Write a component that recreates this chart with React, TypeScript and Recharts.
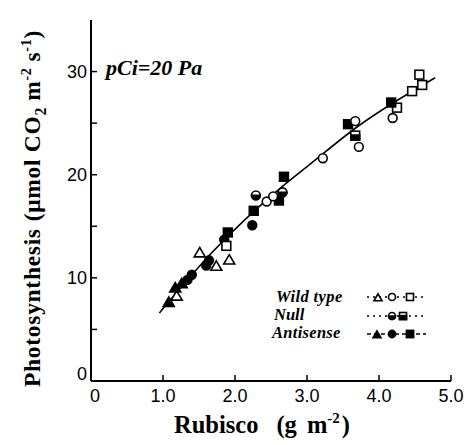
import { ComposedChart, Scatter, Line, XAxis, YAxis, Legend } from 'recharts';

// ─── Data ─────────────────────────────────────────────────────────────────────

const wtTriX = [1.19, 1.51, 1.74, 1.92];
const wtTriY = [8.2, 12.4, 11.1, 11.7];
const wtCircX = [2.44, 2.53, 3.22, 3.67, 3.72, 4.19];
const wtCircY = [17.4, 17.9, 21.6, 25.2, 22.7, 25.5];
const wtSqX = [1.88, 4.25, 4.46, 4.56, 4.6];
const wtSqY = [13.1, 26.5, 28.1, 29.7, 28.7];

const nullCircX = [2.29, 2.66];
const nullCircY = [18.0, 18.3];
const nullSqX = [3.67];
const nullSqY = [23.8];

const asTriX = [1.08, 1.17, 1.26];
const asTriY = [7.6, 9.0, 9.4];
const asCircX = [1.34, 1.4, 1.6, 1.64, 1.85, 2.24];
const asCircY = [9.8, 10.3, 11.2, 11.7, 13.7, 15.1];
const asSqX = [1.9, 2.26, 2.61, 2.68, 3.57, 4.17];
const asSqY = [14.4, 16.5, 17.5, 19.8, 24.9, 27.0];

// fitted curve
const fitX = [0.95, 1.7, 2.63, 3.04, 3.69, 4.78];
const fitY = [6.6, 12.6, 18.7, 21.0, 24.6, 29.4];

const xTicks = [0, 1, 2, 3, 4, 5];
const xTickLabels = ['0', '1.0', '2.0', '3.0', '4.0', '5.0'];
const yTicks = [0, 5, 10, 15, 20, 25, 30];
const yTickLabels = ['0', '', '10', '', '20', '', '30'];

const pts = (xs: number[], ys: number[]) => xs.map((x, i) => ({ x, y: ys[i] }));

// ─── Markers ──────────────────────────────────────────────────────────────────

const SW = 1.6;

function Tri({ cx, cy, s = 5.5, filled = false }: any) {
  const h = s * 1.7;
  return (
    <path
      d={`M${cx},${cy - h * 0.6} L${cx + s},${cy + h * 0.4} L${cx - s},${cy + h * 0.4} Z`}
      fill={filled ? '#000' : '#fff'}
      stroke="#000"
      strokeWidth={SW}
    />
  );
}

function Circ({ cx, cy, r = 4.4, filled = false }: any) {
  return <circle cx={cx} cy={cy} r={r} fill={filled ? '#000' : '#fff'} stroke="#000" strokeWidth={SW} />;
}

function Sq({ cx, cy, s = 4.4, filled = false }: any) {
  return (
    <rect x={cx - s} y={cy - s} width={s * 2} height={s * 2} fill={filled ? '#000' : '#fff'} stroke="#000" strokeWidth={SW} />
  );
}

function HalfCirc({ cx, cy, r = 4.4 }: any) {
  return (
    <g>
      <circle cx={cx} cy={cy} r={r} fill="#fff" stroke="#000" strokeWidth={SW} />
      <path d={`M${cx - r},${cy} A${r},${r} 0 0 0 ${cx + r},${cy} Z`} fill="#000" stroke="#000" strokeWidth={SW} />
    </g>
  );
}

function HalfSq({ cx, cy, s = 4.4 }: any) {
  return (
    <g>
      <rect x={cx - s} y={cy - s} width={s * 2} height={s * 2} fill="#fff" stroke="#000" strokeWidth={SW} />
      <rect x={cx - s} y={cy - s * 0.1} width={s * 2} height={s * 1.1} fill="#000" stroke="#000" strokeWidth={SW} />
    </g>
  );
}

// ─── Axis ticks (drawn inward) ────────────────────────────────────────────────

const TICK_FONT = "'Liberation Sans', Arial, sans-serif";

function BottomTick({ x, y, index }: any) {
  return (
    <g>
      <line x1={x} y1={y} x2={x} y2={y - 6} stroke="#000" strokeWidth={1.5} />
      <text x={index === 0 ? x + 4 : x} y={y + 21} textAnchor="middle" fontFamily={TICK_FONT} fontSize={18} fill="#000">
        {xTickLabels[index]}
      </text>
    </g>
  );
}

function LeftTick({ x, y, index }: any) {
  return (
    <g>
      <line x1={x} y1={y} x2={x + 6} y2={y} stroke="#000" strokeWidth={1.5} />
      <text x={x - 4} y={index === 0 ? y - 1 : y + 6} textAnchor="end" fontFamily={TICK_FONT} fontSize={18} fill="#000">
        {yTickLabels[index]}
      </text>
    </g>
  );
}

function TopTick({ x, y }: any) {
  return <line x1={x} y1={y} x2={x} y2={y + 6} stroke="#000" strokeWidth={1.5} />;
}

function RightTick({ x, y }: any) {
  return <line x1={x} y1={y} x2={x - 6} y2={y} stroke="#000" strokeWidth={1.5} />;
}

// ─── Titles ───────────────────────────────────────────────────────────────────

const SERIF = "'Liberation Serif', 'Times New Roman', serif";

function YTitle({ viewBox }: any) {
  const cx = 40;
  const cy = viewBox.y + viewBox.height / 2 + 8;
  return (
    <text
      x={cx}
      y={cy}
      transform={`rotate(-90 ${cx} ${cy})`}
      textAnchor="middle"
      fontFamily={SERIF}
      fontWeight="bold"
      fontSize={23.5}
      letterSpacing={0.7}
      fill="#000"
    >
      Photosynthesis
      <tspan dx={7}>(μmol CO</tspan>
      <tspan dy={6} fontSize={16}>2</tspan>
      <tspan dy={-6} dx={6}>m</tspan>
      <tspan dy={-9} fontSize={14}>-2</tspan>
      <tspan dy={9} dx={6}>s</tspan>
      <tspan dy={-9} fontSize={14}>-1</tspan>
      <tspan dy={9}>)</tspan>
    </text>
  );
}

function XTitle({ viewBox }: any) {
  const cx = viewBox.x + viewBox.width / 2 - 9;
  return (
    <text x={cx} y={433} textAnchor="middle" fontFamily={SERIF} fontWeight="bold" fontSize={24.5} fill="#000">
      Rubisco
      <tspan dx={18}>(g</tspan>
      <tspan dx={10}>m</tspan>
      <tspan dy={-10} fontSize={15}>-2</tspan>
      <tspan dy={10} dx={2}>)</tspan>
    </text>
  );
}

// ─── Legend ───────────────────────────────────────────────────────────────────

function LegendBox() {
  const rows = [297 - 285, 316 - 285, 334 - 285];
  const lbl = { fontFamily: SERIF, fontWeight: 'bold' as const, fontStyle: 'italic' as const, fontSize: 16.5, fill: '#000' };
  return (
    <svg width={170} height={60} style={{ overflow: 'visible' }}>
      <text x={6} y={rows[0] + 5} {...lbl} letterSpacing={0.4}>Wild type</text>
      <text x={4} y={rows[1] + 4} {...lbl}>Null</text>
      <text x={2} y={rows[2] + 4} {...lbl} letterSpacing={0.3}>Antisense</text>

      <line x1={97} x2={156} y1={rows[0]} y2={rows[0]} stroke="#000" strokeWidth={1.3} strokeDasharray="2 4" />
      <Tri cx={108} cy={rows[0] + 1} s={4} />
      <Circ cx={122} cy={rows[0]} r={3.5} />
      <Sq cx={140} cy={rows[0]} s={3.5} />

      <line x1={97} x2={156} y1={rows[1]} y2={rows[1]} stroke="#000" strokeWidth={1.3} strokeDasharray="2 4" />
      <HalfCirc cx={122} cy={rows[1]} r={3.5} />
      <HalfSq cx={133} cy={rows[1]} s={3.5} />

      <line x1={97} x2={156} y1={rows[2]} y2={rows[2]} stroke="#000" strokeWidth={1.3} strokeDasharray="4 3" />
      <Tri cx={107} cy={rows[2] + 1} s={4} filled />
      <Circ cx={122} cy={rows[2]} r={3.6} filled />
      <Sq cx={140} cy={rows[2]} s={3.6} filled />
    </svg>
  );
}

// ─── Chart ────────────────────────────────────────────────────────────────────

export default function App() {
  return (
    <div style={{ position: 'absolute', left: 0, top: 0, width: 472, height: 445, background: '#fff' }}>
      <ComposedChart width={472} height={445} margin={{ top: 20, right: 21, bottom: 14, left: 0 }}>
        <XAxis
          type="number"
          dataKey="x"
          domain={[0, 5]}
          ticks={xTicks}
          interval={0}
          height={50}
          tickSize={0}
          tickMargin={0}
          tickLine={false}
          axisLine={{ stroke: '#000', strokeWidth: 2 }}
          tick={<BottomTick />}
          label={<XTitle />}
          allowDataOverflow
        />
        <XAxis
          xAxisId="top"
          orientation="top"
          type="number"
          domain={[0, 5]}
          ticks={[1, 2, 3, 4]}
          interval={0}
          height={0}
          tickSize={0}
          tickMargin={0}
          tickLine={false}
          axisLine={{ stroke: '#000', strokeWidth: 1.6 }}
          tick={<TopTick />}
        />
        <YAxis
          type="number"
          dataKey="y"
          domain={[0, 35]}
          ticks={yTicks}
          interval={0}
          width={91}
          tickSize={0}
          tickMargin={0}
          tickLine={false}
          axisLine={{ stroke: '#000', strokeWidth: 2 }}
          tick={<LeftTick />}
          label={<YTitle />}
          allowDataOverflow
        />
        <YAxis
          yAxisId="right"
          orientation="right"
          type="number"
          domain={[0, 35]}
          ticks={[5, 10, 15, 20, 25, 30]}
          interval={0}
          width={0}
          tickSize={0}
          tickMargin={0}
          tickLine={false}
          axisLine={{ stroke: '#000', strokeWidth: 1.6 }}
          tick={<RightTick />}
        />
        <Legend
          layout="horizontal"
          verticalAlign="middle"
          align="center"
          wrapperStyle={{ position: 'absolute', left: 270, top: 285, width: 170, height: 60 }}
          content={() => <LegendBox />}
        />

        <Line
          data={pts(fitX, fitY)}
          dataKey="y"
          type="monotone"
          stroke="#000"
          strokeWidth={1.6}
          dot={false}
          activeDot={false}
          isAnimationActive={false}
          legendType="none"
        />

        <Scatter name="wtTri" data={pts(wtTriX, wtTriY)} shape={(p: any) => <Tri cx={p.cx} cy={p.cy} />} isAnimationActive={false} />
        <Scatter name="asTri" data={pts(asTriX, asTriY)} shape={(p: any) => <Tri cx={p.cx} cy={p.cy} filled />} isAnimationActive={false} />
        <Scatter name="asCirc" data={pts(asCircX, asCircY)} shape={(p: any) => <Circ cx={p.cx} cy={p.cy} filled />} isAnimationActive={false} />
        <Scatter name="wtSq" data={pts(wtSqX, wtSqY)} shape={(p: any) => <Sq cx={p.cx} cy={p.cy} />} isAnimationActive={false} />
        <Scatter name="asSq" data={pts(asSqX, asSqY)} shape={(p: any) => <Sq cx={p.cx} cy={p.cy} filled />} isAnimationActive={false} />
        <Scatter name="wtCirc" data={pts(wtCircX, wtCircY)} shape={(p: any) => <Circ cx={p.cx} cy={p.cy} />} isAnimationActive={false} />
        <Scatter name="nullCirc" data={pts(nullCircX, nullCircY)} shape={(p: any) => <HalfCirc cx={p.cx} cy={p.cy} />} isAnimationActive={false} />
        <Scatter name="nullSq" data={pts(nullSqX, nullSqY)} shape={(p: any) => <HalfSq cx={p.cx} cy={p.cy} />} isAnimationActive={false} />
      </ComposedChart>

      <div
        style={{
          position: 'absolute',
          left: 106,
          top: 55,
          fontFamily: SERIF,
          fontStyle: 'italic',
          fontWeight: 'bold',
          fontSize: 22,
          lineHeight: '26px',
          whiteSpace: 'pre',
        }}
      >
        pCi=20 Pa
      </div>
    </div>
  );
}
